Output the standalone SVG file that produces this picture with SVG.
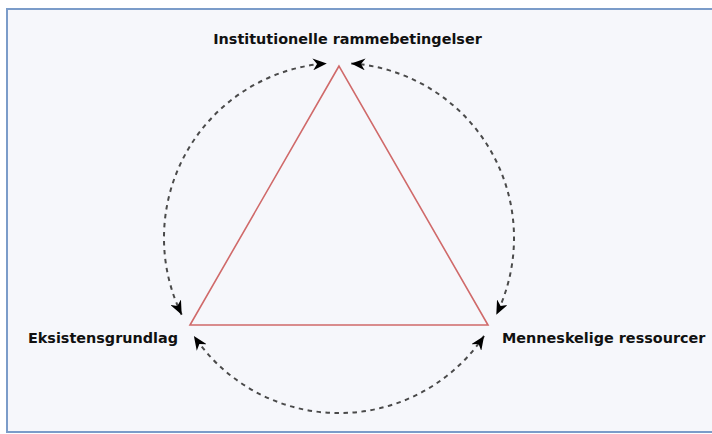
<svg xmlns="http://www.w3.org/2000/svg" width="712" height="434" viewBox="0 0 712 434">
<defs>
<marker id="ah" viewBox="0 0 10 10" refX="10" refY="5" markerWidth="14" markerHeight="12" markerUnits="userSpaceOnUse" orient="auto-start-reverse" preserveAspectRatio="none">
<path d="M0,0 L10,5 L0,10 L3,5 z" fill="#000"/>
</marker>
</defs>
<style>
.lbl{font-family:"DejaVu Sans",Verdana,sans-serif;font-weight:bold;font-size:14.4px;fill:#111}
.arc{fill:none;stroke:#4a4a4a;stroke-width:2;stroke-dasharray:4.5 4.5;marker-start:url(#ah);marker-end:url(#ah)}
</style>
<rect x="0" y="0" width="712" height="434" fill="#ffffff"/>
<rect id="frame" x="7" y="9" width="720" height="423" fill="#f6f7fb" stroke="#7b9cc9" stroke-width="2"/>
<g id="triangle">
<polygon points="339,66 190,325 488,325" fill="none" stroke="#d06a6a" stroke-width="1.6"/>
</g>
<g id="connectors">
<path class="arc" d="M181.7,314.7 A175,175 0 0 1 326.8,63.4"/>
<path class="arc" d="M351.2,63.4 A175,175 0 0 1 496.3,314.7"/>
<path class="arc" d="M484.1,335.9 A175,175 0 0 1 193.9,335.9"/>
</g>
<g id="node-top"><text class="lbl" x="347.5" y="44" text-anchor="middle">Institutionelle rammebetingelser</text></g>
<g id="node-left"><text class="lbl" x="178" y="343" text-anchor="end">Eksistensgrundlag</text></g>
<g id="node-right"><text class="lbl" x="502" y="343">Menneskelige ressourcer</text></g>
</svg>
